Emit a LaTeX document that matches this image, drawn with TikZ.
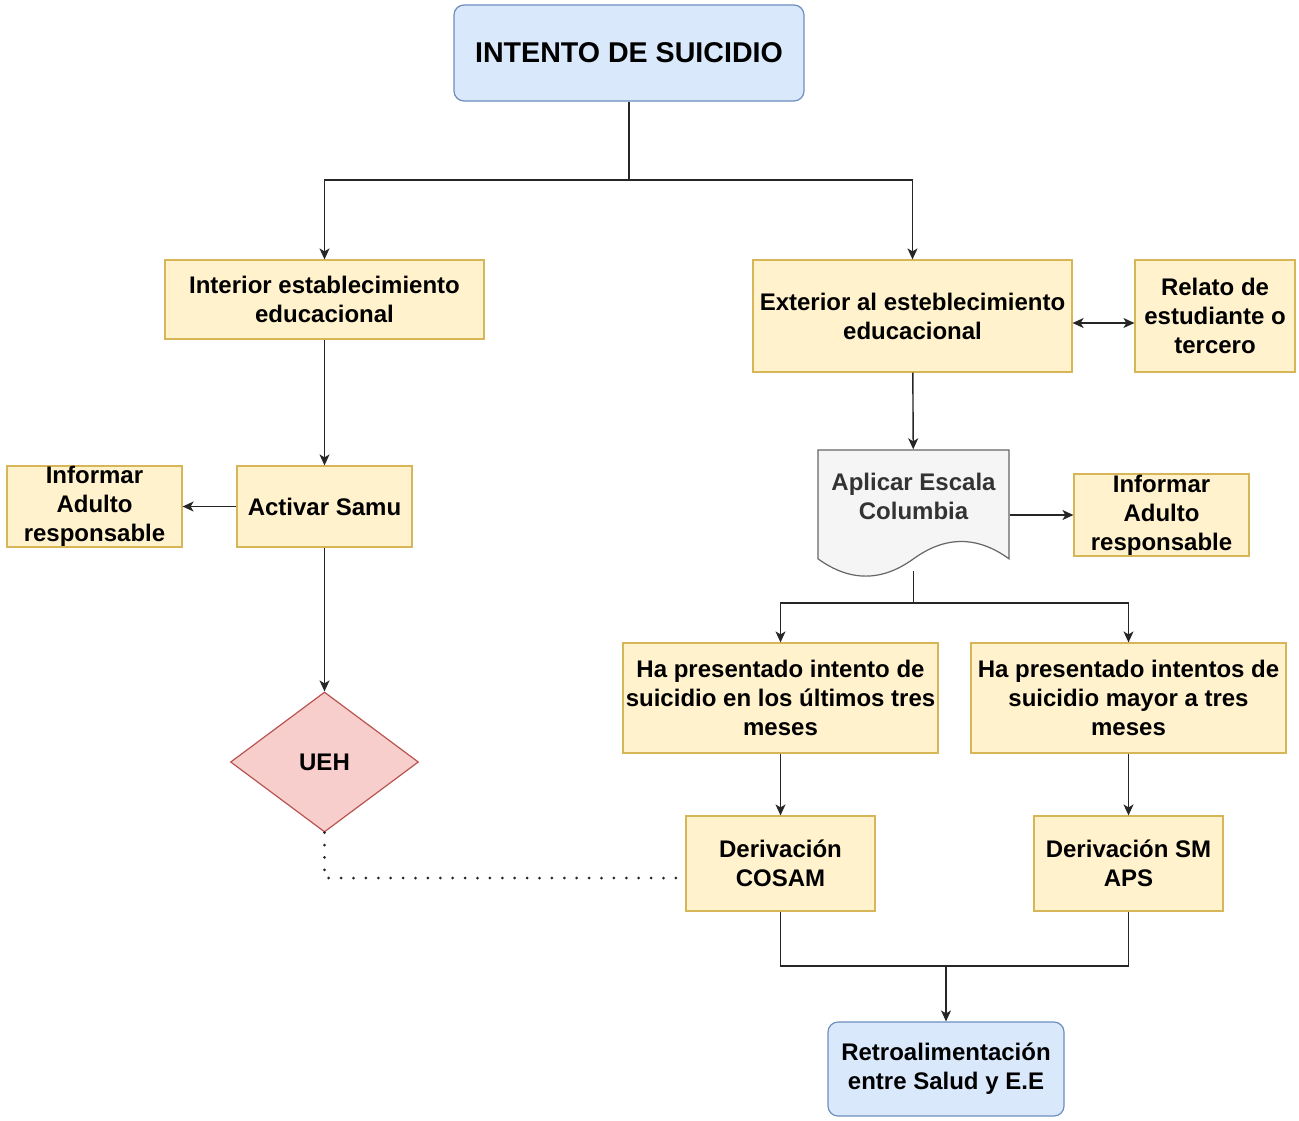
\documentclass[tikz,border=0pt]{standalone}
\usepackage{fontspec}
\setmainfont{Liberation Sans}
\usetikzlibrary{arrows.meta,shapes.geometric}
\definecolor{boxfill}{HTML}{FFF2CC}
\definecolor{boxline}{HTML}{D6B656}
\definecolor{bluefill}{HTML}{DAE8FC}
\definecolor{blueline}{HTML}{6C8EBF}
\definecolor{redfill}{HTML}{F8CECC}
\definecolor{redline}{HTML}{B85450}
\definecolor{docfill}{HTML}{F5F5F5}
\definecolor{docline}{HTML}{666666}
\definecolor{doctext}{HTML}{333333}
\begin{document}
\begin{tikzpicture}[x=0.5pt,y=-0.5pt,line width=0.7pt,
  every node/.style={font=\fontsize{12}{14.5}\selectfont\bfseries,align=center,inner sep=1pt},
  yellowbox/.style={draw=boxline,fill=boxfill,line width=0.6pt,minimum width=#1},
  yellowbox/.default=87.5pt,
  bluebox/.style={draw=blueline,fill=bluefill,line width=0.6pt,rounded corners=5pt},
  arr/.style={draw=black!85,-{Stealth[length=5.5pt,width=5pt,inset=1.5pt]}},
  dblarr/.style={draw=black!85,{Stealth[length=5.5pt,width=5pt,inset=1.5pt]}-{Stealth[length=5.5pt,width=5pt,inset=1.5pt]}},
  link/.style={draw=black!85},
  dots/.style={draw=black!85,line width=1.5pt,line cap=round,dash pattern=on 0pt off 6.2pt}]
 \path (0,0) (1299,1120);
 \node[bluebox,minimum width=175pt,minimum height=48pt,font=\fontsize{14.3}{17}\selectfont\bfseries] (title) at (629,53) {INTENTO DE SUICIDIO};
 \node[yellowbox=159.5pt,minimum height=39.5pt] (interior) at (324.5,299.5) {Interior establecimiento\\educacional};
 \node[yellowbox=159.5pt,minimum height=56pt] (exterior) at (912.5,316) {Exterior al esteblecimiento\\educacional};
 \node[yellowbox=80pt,minimum height=56pt] (relato) at (1215,316) {Relato de\\estudiante o\\tercero};
 \node[yellowbox,minimum height=40.5pt] (activar) at (324.5,506.5) {Activar Samu};
 \node[yellowbox,minimum height=40.5pt,inner sep=0pt] (informarA) at (94.5,506.5) {Informar\\Adulto\\responsable};
 \draw[draw=docline,fill=docfill,line width=0.6pt] (818,450) -- (1009,450) -- (1009,558.8)
   .. controls (977.17,535.73) and (945.33,535.73) .. (913.5,558.8)
   .. controls (881.67,581.87) and (849.83,581.87) .. (818,558.8) -- cycle;
 \node[text=doctext,minimum width=95.5pt,minimum height=46pt] (escala) at (913.5,496) {Aplicar Escala\\Columbia};
 \coordinate (escalab) at (913.5,571);
 \node[yellowbox,minimum height=41pt,inner sep=0pt] (informarB) at (1161.5,515) {Informar\\Adulto\\responsable};
 \node[yellowbox=157.5pt,minimum height=55pt] (ultimos) at (780.5,698) {Ha presentado intento de\\suicidio en los últimos tres\\meses};
 \node[yellowbox=157.5pt,minimum height=55pt] (mayor) at (1128.5,698) {Ha presentado intentos de\\suicidio mayor a tres\\meses};
 \node[diamond,draw=redline,fill=redfill,line width=0.6pt,minimum width=94pt,minimum height=70pt,inner sep=0pt] (ueh) at (324.5,762) {UEH};
 \node[yellowbox=94.5pt,minimum height=47.5pt] (cosam) at (780.5,863.5) {Derivación\\COSAM};
 \node[yellowbox=94.5pt,minimum height=47.5pt] (aps) at (1128.5,863.5) {Derivación SM\\APS};
 \node[bluebox,minimum width=118pt,minimum height=47pt] (retro) at (946,1069) {Retroalimentación\\entre Salud y E.E};
 \coordinate (split) at (629,180);
 \coordinate (splitb) at (913.5,603);
 \coordinate (join) at (946,966);
 \draw[link] (title) -- (split);
 \draw[arr] (split) -| (interior);
 \draw[arr] (split) -| (exterior);
 \draw[arr] (interior) -- (activar);
 \draw[arr] (activar) -- (informarA);
 \draw[arr] (activar) -- (ueh);
 \draw[dblarr] ([yshift=-3.5pt]exterior.east) -- ([yshift=-3.5pt]relato.west);
 \draw[arr] (exterior) -- (escala);
 \draw[arr] (escala.east |- informarB.west) -- (informarB);
 \draw[link] (escalab) -- (splitb);
 \draw[arr] (splitb) -| (ultimos);
 \draw[arr] (splitb) -| (mayor);
 \draw[arr] (ultimos) -- (cosam);
 \draw[arr] (mayor) -- (aps);
 \draw[link] (cosam) |- (join) -| (aps);
 \draw[arr] (join) -- (retro);
 \draw[dots] (ueh.south) |- ([yshift=-7.25pt]cosam.west);
\end{tikzpicture}
\end{document}
